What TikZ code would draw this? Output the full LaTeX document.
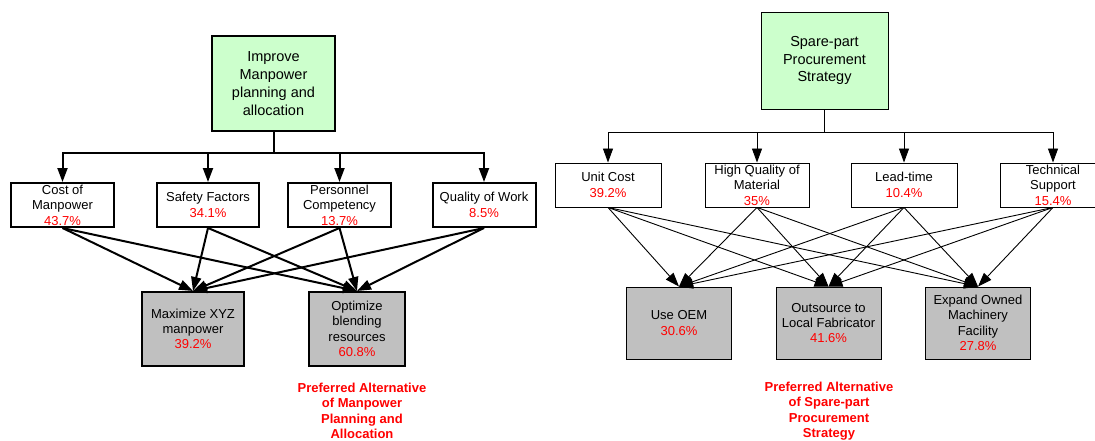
\documentclass[tikz,border=0pt]{standalone}
\usepackage{fontspec}
\setmainfont{Liberation Sans}
\usetikzlibrary{arrows.meta}
\definecolor{goalgreen}{HTML}{CCFFCC}
\definecolor{altgray}{HTML}{C0C0C0}
\newcommand{\pct}[1]{\\\textcolor{red}{#1\%}}

\begin{document}
\begin{tikzpicture}[x=1pt,y=-1pt,>={Triangle[length=14pt,width=10pt]},
  heavy/.style={line width=2pt},
  light/.style={line width=0.9pt},
  linkL/.style={draw,heavy,->},
  linkR/.style={draw,light,->},
  goal/.style={draw,fill=goalgreen,align=center,inner sep=0pt,font=\fontsize{14.5}{17.8}\selectfont},
  crit/.style={draw,fill=white,align=center,inner sep=0pt,minimum height=44pt,font=\fontsize{13}{15.5}\selectfont},
  alt/.style={draw,fill=altgray,align=center,inner sep=0pt,font=\fontsize{13}{15.3}\selectfont},
  pick/.style={text=red,align=center,font=\bfseries\fontsize{13}{15.5}\selectfont}]
\useasboundingbox (0,0) rectangle (1095,441);

% manpower planning
\node[goal,heavy,minimum width=123pt,minimum height=95pt] (goalL) at (273.5,83.5) {Improve\\Manpower\\planning and\\allocation};
\coordinate (barL) at (273.5,153);

\node[crit,heavy,minimum width=103pt] (cost) at (62.5,205) {Cost of\\Manpower\pct{43.7}};
\node[crit,heavy,minimum width=102pt] (safety) at (208,205) {Safety Factors\pct{34.1}};
\node[crit,heavy,minimum width=103pt] (staff) at (339.5,205) {Personnel\\Competency\pct{13.7}};
\node[crit,heavy,minimum width=103pt] (work) at (484,205) {Quality of Work\pct{8.5}};

\node[alt,heavy,minimum width=102pt,minimum height=74pt] (maxim) at (193,329) {Maximize XYZ\\manpower\pct{39.2}};
\node[alt,heavy,minimum width=96pt,minimum height=74pt] (optim) at (357,329) {Optimize\\blending\\resources\pct{60.8}};

\node[pick] (pickL) at (362,411) {Preferred Alternative\\of Manpower\\Planning and\\Allocation};

\draw[heavy,->] (goalL.south) -- (barL) -| (cost.north);
\draw[heavy,->] (goalL.south) -- (barL) -| (safety.north);
\draw[heavy,->] (goalL.south) -- (barL) -| (staff.north);
\draw[heavy,->] (goalL.south) -- (barL) -| (work.north);

\path (cost.south) edge[linkL] (maxim.north) edge[linkL] (optim.north);
\path (safety.south) edge[linkL] (maxim.north) edge[linkL] (optim.north);
\path (staff.south) edge[linkL] (maxim.north) edge[linkL] (optim.north);
\path (work.south) edge[linkL] (maxim.north) edge[linkL] (optim.north);

% spare-part procurement
\node[goal,light,minimum width=127pt,minimum height=97pt] (goalR) at (824.5,60.5) {Spare-part\\Procurement\\Strategy};
\coordinate (barR) at (824.5,132);

\node[crit,light,minimum width=106pt] (unit) at (608,185) {Unit Cost\pct{39.2}};
\node[crit,light,minimum width=104pt] (quality) at (757,185) {High Quality of\\Material\pct{35}};
\node[crit,light,minimum width=106pt] (lead) at (904,185) {Lead-time\pct{10.4}};
\node[crit,light,minimum width=106pt] (support) at (1053,185) {Technical\\Support\pct{15.4}};

\node[alt,light,minimum width=105pt,minimum height=72pt] (oem) at (679,323) {Use OEM\pct{30.6}};
\node[alt,light,minimum width=105pt,minimum height=72pt] (local) at (828.5,323) {Outsource to\\Local Fabricator\pct{41.6}};
\node[alt,light,minimum width=105pt,minimum height=72pt] (own) at (978,323) {Expand Owned\\Machinery\\Facility\pct{27.8}};

\node[pick] (pickR) at (829,411) {Preferred Alternative\\of Spare-part\\Procurement\\Strategy};

\draw[line width=1.3pt] (goalR.south) -- (barR);
\draw[light,->] (barR) -| (unit.north);
\draw[light,->] (barR) -| (quality.north);
\draw[light,->] (barR) -| (lead.north);
\draw[light,->] (barR) -| (support.north);

\path (unit.south) edge[linkR] (oem.north) edge[linkR] (local.north) edge[linkR] (own.north);
\path (quality.south) edge[linkR] (oem.north) edge[linkR] (local.north) edge[linkR] (own.north);
\path (lead.south) edge[linkR] (oem.north) edge[linkR] (local.north) edge[linkR] (own.north);
\path (support.south) edge[linkR] (oem.north) edge[linkR] (local.north) edge[linkR] (own.north);
\end{tikzpicture}
\end{document}
